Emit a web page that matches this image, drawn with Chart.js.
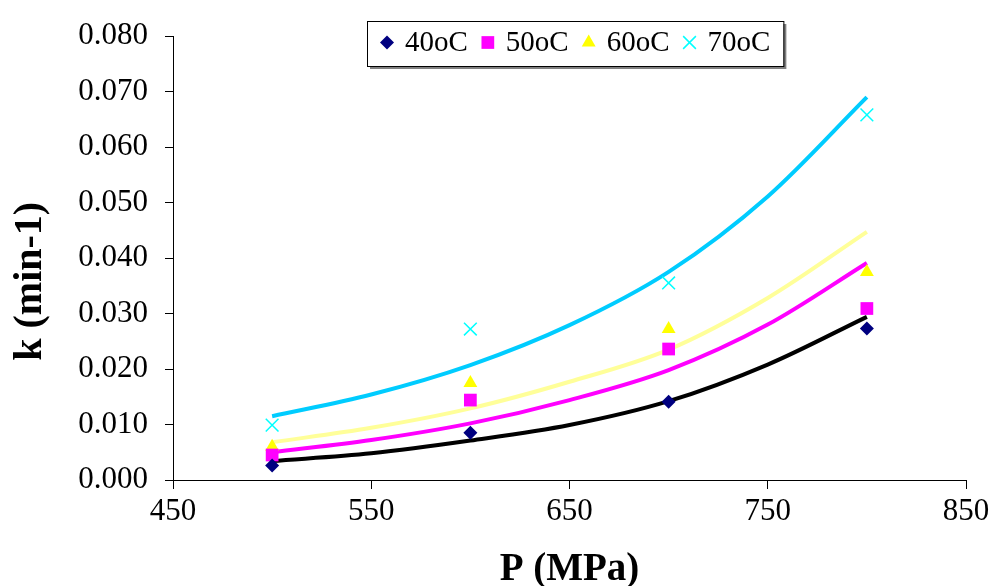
<!DOCTYPE html>
<html>
<head>
<meta charset="utf-8">
<script src="https://cdn.jsdelivr.net/npm/chart.js@4.4.1/dist/chart.umd.min.js"></script>
<style>
  html, body { margin: 0; padding: 0; background: #fff; }
  #wrap { width: 991px; height: 586px; }
</style>
</head>
<body>
<div id="wrap"><canvas id="kChart" width="991" height="586"></canvas></div>
<script>
// measured rate constants
const pressure = [500, 600, 700, 800];
const k40 = [0.0026, 0.0085, 0.0141, 0.0273];
const k50 = [0.0045, 0.0144, 0.0236, 0.0309];
const k60 = [0.0060, 0.0175, 0.0272, 0.0375];
const k70 = [0.0099, 0.0272, 0.0355, 0.0658];

// trend curves
const fitPressure = [500, 550, 600, 650, 700, 750, 800];
const fit40 = [0.0034, 0.0048, 0.0071, 0.0099, 0.0142, 0.0208, 0.0294];
const fit50 = [0.0050, 0.0072, 0.0102, 0.0144, 0.0198, 0.0280, 0.0391];
const fit60 = [0.0068, 0.0094, 0.0129, 0.0177, 0.0235, 0.0328, 0.0447];
const fit70 = [0.0115, 0.0154, 0.0207, 0.0279, 0.0375, 0.0511, 0.0690];

const seriesLabels = ['40oC', '50oC', '60oC', '70oC'];
const xTicks = [450, 550, 650, 750, 850];
const yTitle = 'k (min-1)';

const serif = "'Liberation Serif', 'Times New Roman', serif";

const toPoints = (xs, ys) => xs.map((x, i) => ({ x: x, y: ys[i] }));

const markerSet = (label, ys, style, color, radius) => ({
    label: label,
    data: toPoints(pressure, ys),
    showLine: false,
    pointStyle: style,
    pointRadius: radius,
    pointBackgroundColor: color,
    pointBorderColor: color,
    pointBorderWidth: style === 'crossRot' ? 1.5 : 0
});

const curveSet = (ys, color) => ({
    label: '',
    data: toPoints(fitPressure, ys),
    showLine: true,
    borderColor: color,
    borderWidth: 4,
    pointRadius: 0,
    cubicInterpolationMode: 'monotone',
    fill: false
});

// boxed legend inside the plot, with a drop shadow
const legendBox = {
    id: 'legendBox',
    afterDraw(chart) {
        const ctx = chart.ctx;
        const area = chart.chartArea;
        const left = area.left + 194, top = 21, h = 45;
        const gap = 20;
        ctx.save();
        ctx.font = "29px " + serif;
        let w = 20;
        seriesLabels.forEach((t, i) => {
            w += 18 + ctx.measureText(t).width + (i < seriesLabels.length - 1 ? gap : 13);
        });
        ctx.fillStyle = '#808080';
        ctx.fillRect(left + 3, top + 3, w, h);
        ctx.fillStyle = '#fff';
        ctx.fillRect(left, top, w, h);
        ctx.strokeStyle = '#000';
        ctx.lineWidth = 1;
        ctx.strokeRect(left + 0.5, top + 0.5, w, h);

        let x = left + 20;
        const cy = top + h / 2;
        seriesLabels.forEach((t, i) => {
            const ds = chart.data.datasets[i];
            ctx.fillStyle = ds.pointBackgroundColor;
            ctx.strokeStyle = ds.pointBorderColor;
            ctx.lineWidth = ds.pointBorderWidth || 1;
            Chart.helpers.drawPoint(ctx, {
                pointStyle: ds.pointStyle,
                radius: ds.pointRadius,
                rotation: 0,
                borderWidth: ds.pointBorderWidth
            }, x, cy - 1);
            ctx.fillStyle = '#000';
            ctx.textBaseline = 'middle';
            ctx.textAlign = 'left';
            ctx.fillText(t, x + 18, cy);
            x += 18 + ctx.measureText(t).width + gap;
        });
        ctx.restore();
    }
};

// rotated y-axis title, sitting a little below the axis middle
const yAxisTitle = {
    id: 'yAxisTitle',
    afterDraw(chart) {
        const ctx = chart.ctx;
        const y = chart.scales.y;
        ctx.save();
        ctx.translate(31, y.getPixelForValue(0.0358));
        ctx.rotate(-Math.PI / 2);
        ctx.font = "bold 40px " + serif;
        ctx.fillStyle = '#000';
        ctx.textAlign = 'center';
        ctx.textBaseline = 'middle';
        ctx.fillText(yTitle, 0, 0);
        ctx.restore();
    }
};

new Chart(document.getElementById('kChart'), {
    type: 'scatter',
    data: {
        datasets: [
            markerSet(seriesLabels[0], k40, 'rectRot', '#000080', 7),
            markerSet(seriesLabels[1], k50, 'rect', '#FF00FF', 9),
            markerSet(seriesLabels[2], k60, 'triangle', '#FFFF00', 8),
            markerSet(seriesLabels[3], k70, 'crossRot', '#00FFFF', 9),
            curveSet(fit40, '#000000'),
            curveSet(fit50, '#FF00FF'),
            curveSet(fit60, '#FFFF99'),
            curveSet(fit70, '#00CCFF')
        ]
    },
    options: {
        responsive: false,
        animation: false,
        layout: { padding: { top: 36, right: 25, left: 0, bottom: 0 } },
        plugins: {
            legend: { display: false },
            tooltip: { enabled: false }
        },
        scales: {
            x: {
                type: 'linear',
                min: 450,
                max: 850,
                afterBuildTicks: (scale) => { scale.ticks = xTicks.map(v => ({ value: v })); },
                afterFit: (scale) => {
                    scale.height = 106;
                    scale.paddingLeft = 0;
                    scale.paddingRight = 0;
                },
                ticks: {
                    color: '#000',
                    font: { family: serif, size: 31 },
                    padding: 4,
                    maxRotation: 0
                },
                grid: { drawOnChartArea: false, drawTicks: true, tickLength: 9, color: '#000' },
                border: { display: true, color: '#000', width: 1 },
                title: {
                    display: true,
                    text: 'P (MPa)',
                    color: '#000',
                    font: { family: serif, size: 39, weight: 'bold', lineHeight: 0.8 },
                    padding: { top: 0, bottom: 0 }
                }
            },
            y: {
                min: 0,
                max: 0.08,
                afterFit: (scale) => { scale.width = 173; },
                ticks: {
                    stepSize: 0.01,
                    color: '#000',
                    font: { family: serif, size: 31 },
                    padding: 17,
                    callback: (v) => v.toFixed(3)
                },
                grid: { drawOnChartArea: false, drawTicks: true, tickLength: 8, color: '#000' },
                border: { display: true, color: '#000', width: 1 }
            }
        }
    },
    plugins: [legendBox, yAxisTitle]
});
</script>
</body>
</html>
